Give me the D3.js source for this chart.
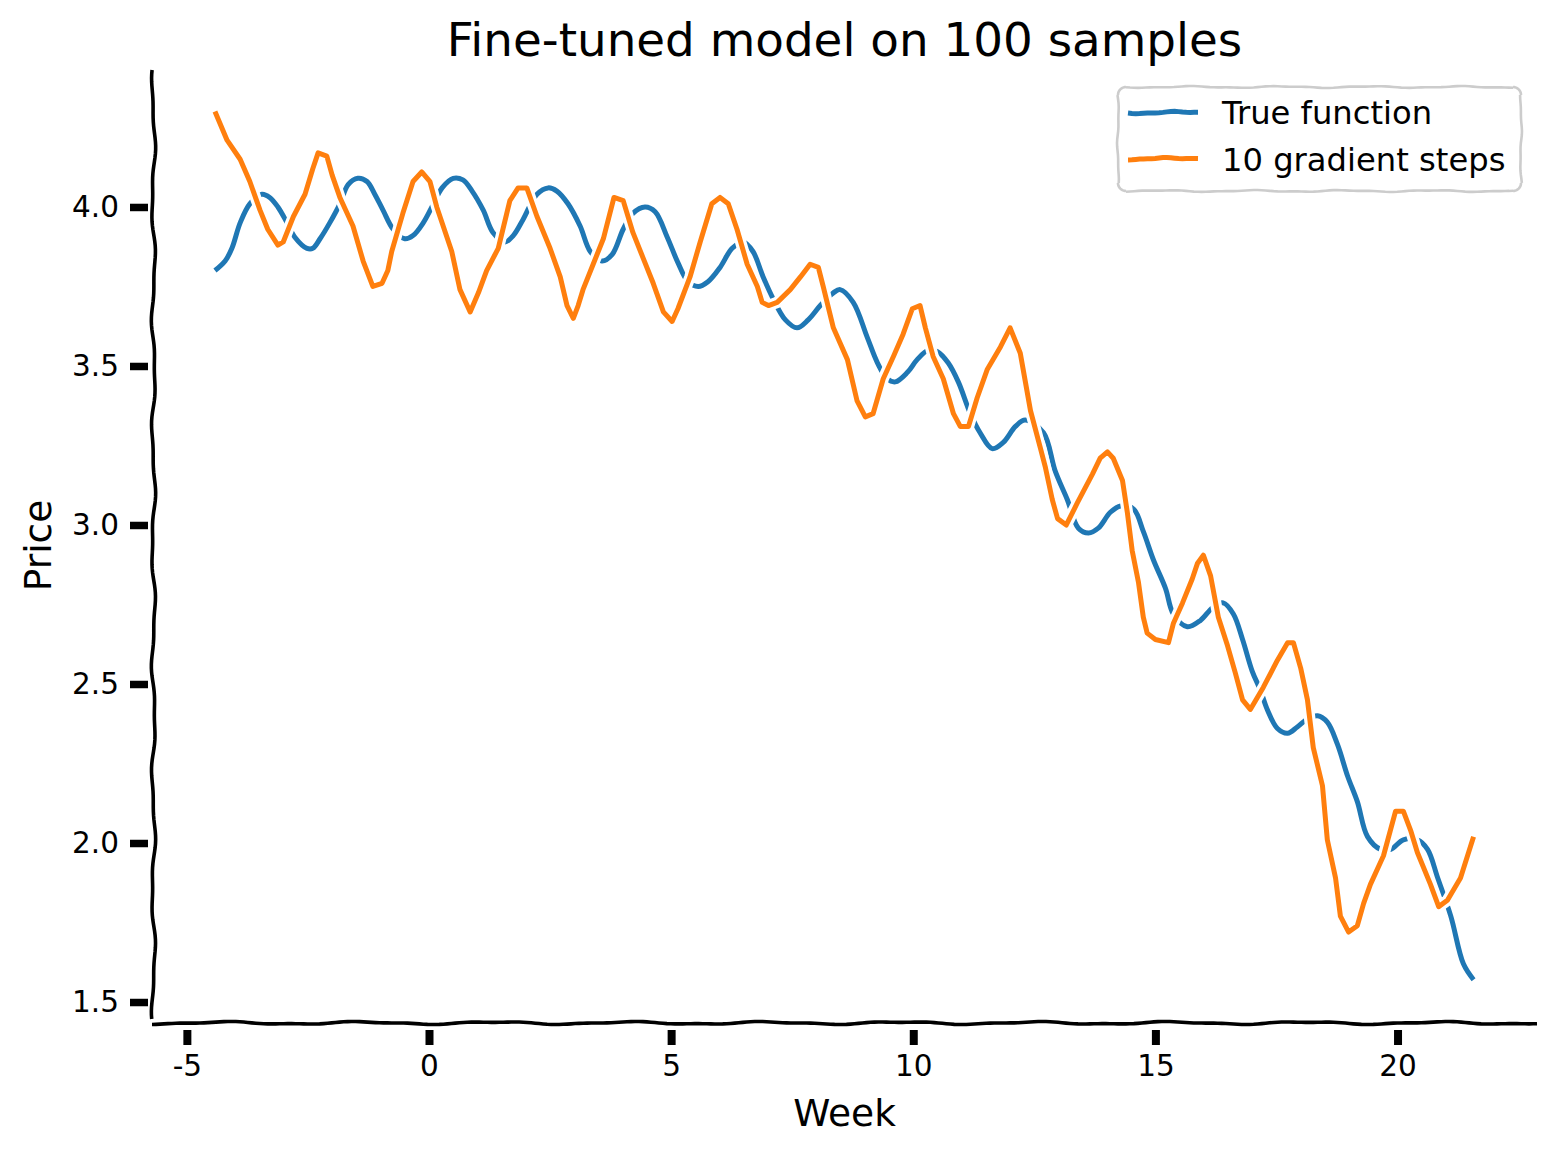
<!DOCTYPE html>
<html>
<head>
<meta charset="utf-8">
<script src="https://cdn.jsdelivr.net/npm/d3@7"></script>
<style>
  html, body { margin: 0; padding: 0; background: #fff; }
  svg { display: block; font-family: "DejaVu Sans", sans-serif; }
</style>
</head>
<body>
<svg id="chart" width="1556" height="1155"></svg>
<script>
// ---------------- data ----------------
const trueX = [-4.42,-4.21,-4.07,-3.90,-3.70,-3.45,-3.29,-3.12,-2.93,-2.77,-2.52,-2.40,-2.25,-2.05,-1.84,-1.67,-1.47,-1.28,-1.12,-0.95,-0.74,-0.50,-0.33,-0.12,0.06,0.27,0.50,0.70,0.89,1.12,1.32,1.57,1.74,1.94,2.23,2.46,2.64,2.87,3.12,3.33,3.57,3.78,4.01,4.21,4.46,4.67,4.92,5.14,5.35,5.56,5.76,6.01,6.26,6.49,6.69,6.90,7.11,7.36,7.60,7.83,8.08,8.35,8.49,8.76,9.05,9.26,9.46,9.63,9.88,10.08,10.31,10.50,10.72,10.93,11.18,11.38,11.63,11.86,12.11,12.31,12.69,12.93,13.18,13.41,13.62,13.82,14.07,14.28,14.55,14.75,14.96,15.21,15.37,15.66,15.93,16.18,16.40,16.61,16.80,17.00,17.17,17.31,17.52,17.73,17.93,18.14,18.35,18.55,18.76,18.97,19.17,19.38,19.65,19.86,20.12,20.41,20.62,20.83,21.10,21.36,21.57];
const trueY = [3.80,3.83,3.87,3.95,4.01,4.04,4.03,4.00,3.95,3.905,3.87,3.87,3.90,3.95,4.01,4.07,4.09,4.08,4.04,3.99,3.93,3.90,3.91,3.95,4.00,4.06,4.09,4.085,4.05,3.99,3.92,3.89,3.91,3.96,4.04,4.06,4.05,4.01,3.94,3.86,3.83,3.85,3.93,3.98,4.00,3.985,3.905,3.825,3.765,3.75,3.765,3.81,3.87,3.89,3.86,3.78,3.71,3.645,3.62,3.645,3.69,3.73,3.74,3.70,3.59,3.51,3.46,3.45,3.48,3.52,3.55,3.545,3.51,3.45,3.35,3.29,3.24,3.26,3.31,3.33,3.29,3.17,3.08,2.99,2.975,2.99,3.04,3.06,3.05,2.98,2.89,2.80,2.72,2.68,2.70,2.74,2.755,2.72,2.64,2.54,2.48,2.42,2.36,2.345,2.365,2.39,2.40,2.38,2.31,2.21,2.13,2.02,1.98,1.98,2.01,2.01,1.98,1.89,1.77,1.62,1.57];

const stepsX = [-4.42,-4.17,-3.90,-3.70,-3.49,-3.33,-3.12,-3.01,-2.80,-2.56,-2.40,-2.29,-2.11,-2.00,-1.84,-1.57,-1.36,-1.16,-0.97,-0.85,-0.77,-0.54,-0.33,-0.15,0.02,0.16,0.47,0.64,0.85,1.02,1.19,1.43,1.67,1.84,2.02,2.23,2.50,2.71,2.85,2.98,3.08,3.18,3.39,3.60,3.82,4.01,4.21,4.42,4.63,4.84,5.02,5.14,5.39,5.60,5.84,6.01,6.18,6.36,6.57,6.78,6.88,7.01,7.19,7.46,7.67,7.87,8.04,8.14,8.35,8.64,8.84,9.01,9.17,9.38,9.59,9.79,9.98,10.14,10.25,10.41,10.62,10.83,10.97,11.14,11.32,11.53,11.80,12.00,12.21,12.42,12.62,12.73,12.87,12.98,13.16,13.39,13.70,13.86,14.01,14.13,14.32,14.42,14.52,14.65,14.75,14.83,15.00,15.27,15.37,15.56,15.76,15.87,15.99,16.14,16.30,16.49,16.65,16.80,16.96,17.23,17.52,17.73,17.85,18.00,18.14,18.26,18.45,18.55,18.72,18.82,18.99,19.17,19.30,19.44,19.71,19.96,20.12,20.27,20.41,20.68,20.85,21.03,21.30,21.57];
const stepsY = [4.30,4.21,4.15,4.08,3.99,3.93,3.88,3.89,3.97,4.04,4.12,4.17,4.16,4.10,4.03,3.94,3.83,3.75,3.76,3.80,3.86,3.98,4.08,4.11,4.08,4.00,3.86,3.74,3.67,3.73,3.80,3.87,4.02,4.06,4.06,3.97,3.87,3.78,3.69,3.65,3.69,3.74,3.82,3.90,4.03,4.02,3.92,3.84,3.76,3.67,3.64,3.68,3.78,3.89,4.01,4.03,4.01,3.93,3.82,3.75,3.70,3.69,3.70,3.74,3.78,3.82,3.81,3.75,3.62,3.52,3.39,3.34,3.35,3.46,3.53,3.60,3.68,3.69,3.62,3.53,3.46,3.35,3.31,3.31,3.40,3.49,3.56,3.62,3.54,3.36,3.245,3.18,3.08,3.02,3.00,3.07,3.16,3.21,3.23,3.21,3.14,3.04,2.92,2.82,2.71,2.66,2.64,2.63,2.69,2.755,2.83,2.88,2.905,2.84,2.71,2.62,2.535,2.45,2.42,2.49,2.575,2.63,2.63,2.55,2.45,2.30,2.18,2.01,1.89,1.77,1.72,1.74,1.81,1.87,1.96,2.10,2.10,2.04,1.97,1.87,1.80,1.82,1.89,2.02];

const seriesNames = ["True function", "10 gradient steps"];
const seriesColors = ["#1f77b4", "#ff7f0e"];

const xTicks = [-5, 0, 5, 10, 15, 20];
const xTickLabels = ["-5", "0", "5", "10", "15", "20"];
const yTicks = [1.5, 2.0, 2.5, 3.0, 3.5, 4.0];
const yTickLabels = ["1.5", "2.0", "2.5", "3.0", "3.5", "4.0"];

const titleText = "Fine-tuned model on 100 samples";
const xLabelText = "Week";
const yLabelText = "Price";

// ---------------- layout ----------------
const svg = d3.select("#chart");
const plot = { left: 152, right: 1537, top: 68, bottom: 1023 };

const x = d3.scaleLinear().domain([-5.72, 22.88]).range([plot.left, plot.right]);
const y = d3.scaleLinear().domain([1.434, 4.437]).range([plot.bottom, plot.top]);

// wobbly (xkcd-like) straight line helper
function wobble(x0, y0, x1, y1, amp, wl, phase) {
  const len = Math.hypot(x1 - x0, y1 - y0);
  const n = Math.max(2, Math.ceil(len / 4));
  const ux = (x1 - x0) / len, uy = (y1 - y0) / len;
  const px = -uy, py = ux;
  const pts = [];
  for (let i = 0; i <= n; i++) {
    const t = i / n, s = t * len;
    const off = amp * (0.7 * Math.sin(2 * Math.PI * s / wl + phase) + 0.3 * Math.sin(2 * Math.PI * s / (wl * 0.43) + phase * 1.7));
    pts.push([x0 + ux * s + px * off, y0 + uy * s + py * off]);
  }
  return d3.line()(pts);
}

// ---------------- series ----------------
const blueData = trueX.map((v, i) => [v, trueY[i]]);
const orangeData = stepsX.map((v, i) => [v, stepsY[i]]);

const blueLine = d3.line().x(d => x(d[0])).y(d => y(d[1])).curve(d3.curveCatmullRom.alpha(0.5));
const orangeLine = d3.line().x(d => x(d[0])).y(d => y(d[1])).curve(d3.curveLinear);

const series = [
  { data: blueData, gen: blueLine, color: seriesColors[0] },
  { data: orangeData, gen: orangeLine, color: seriesColors[1] }
];
series.forEach(s => {
  svg.append("path").attr("d", s.gen(s.data)).attr("fill", "none")
    .attr("stroke", "#fff").attr("stroke-width", 11.5)
    .attr("stroke-linejoin", "round").attr("stroke-linecap", "round");
  svg.append("path").attr("d", s.gen(s.data)).attr("fill", "none")
    .attr("stroke", s.color).attr("stroke-width", 5)
    .attr("stroke-linejoin", "round").attr("stroke-linecap", "butt");
});

// ---------------- spines ----------------
svg.append("path")
  .attr("d", wobble(plot.left + 1.5, plot.top + 2, plot.left + 1.5, plot.bottom - 4, 2.2, 115, 0.6))
  .attr("fill", "none").attr("stroke", "#000").attr("stroke-width", 3.6);
svg.append("path")
  .attr("d", wobble(plot.left, plot.bottom, plot.right, plot.bottom, 1.6, 135, 1.3))
  .attr("fill", "none").attr("stroke", "#000").attr("stroke-width", 3.6);

// ---------------- axes ----------------
const xAxis = d3.axisBottom(x).tickValues(xTicks)
  .tickFormat((d, i) => xTickLabels[i]).tickSize(15).tickPadding(10);
const gx = svg.append("g").attr("transform", `translate(0,${plot.bottom + 7})`).call(xAxis);
gx.select(".domain").remove();
gx.selectAll(".tick line").attr("stroke", "#000").attr("stroke-width", 8);
gx.selectAll(".tick text").attr("fill", "#000")
  .style("font-family", "'DejaVu Sans', sans-serif").style("font-size", "29.5px");

const yAxis = d3.axisLeft(y).tickValues(yTicks)
  .tickFormat((d, i) => yTickLabels[i]).tickSize(18).tickPadding(11);
const gy = svg.append("g").attr("transform", `translate(${plot.left - 4},0)`).call(yAxis);
gy.select(".domain").remove();
gy.selectAll(".tick line").attr("stroke", "#000").attr("stroke-width", 7.5);
gy.selectAll(".tick text").attr("fill", "#000")
  .style("font-family", "'DejaVu Sans', sans-serif").style("font-size", "29.5px");

// ---------------- labels ----------------
svg.append("text").text(titleText)
  .attr("x", (plot.left + plot.right) / 2).attr("y", 56)
  .attr("text-anchor", "middle").style("font-size", "46.8px").attr("fill", "#000");

svg.append("text").text(xLabelText)
  .attr("x", (plot.left + plot.right) / 2).attr("y", 1126)
  .attr("text-anchor", "middle").style("font-size", "37.5px").attr("fill", "#000");

svg.append("text").text(yLabelText)
  .attr("transform", `translate(51,${(plot.top + plot.bottom) / 2}) rotate(-90)`)
  .attr("text-anchor", "middle").style("font-size", "37.5px").attr("fill", "#000");

// ---------------- legend ----------------
const lg = { x0: 1118, y0: 87, x1: 1521, y1: 191, r: 8 };
const legendG = svg.append("g");
const boxPath = [
  wobble(lg.x0 + lg.r, lg.y0, lg.x1 - lg.r, lg.y0, 1.0, 90, 0.2),
  wobble(lg.x1, lg.y0 + lg.r, lg.x1, lg.y1 - lg.r, 1.0, 60, 1.1),
  wobble(lg.x1 - lg.r, lg.y1, lg.x0 + lg.r, lg.y1, 1.0, 90, 2.3),
  wobble(lg.x0, lg.y1 - lg.r, lg.x0, lg.y0 + lg.r, 1.0, 60, 0.7)
];
legendG.append("rect").attr("x", lg.x0).attr("y", lg.y0)
  .attr("width", lg.x1 - lg.x0).attr("height", lg.y1 - lg.y0)
  .attr("rx", lg.r).attr("fill", "#fff").attr("fill-opacity", 0.85).attr("stroke", "none");
boxPath.forEach(d => legendG.append("path").attr("d", d).attr("fill", "none")
  .attr("stroke", "#cccccc").attr("stroke-width", 2.6));
[[lg.x0 + lg.r, lg.y0 + lg.r, Math.PI, 1.5 * Math.PI], [lg.x1 - lg.r, lg.y0 + lg.r, 1.5 * Math.PI, 2 * Math.PI],
 [lg.x1 - lg.r, lg.y1 - lg.r, 0, 0.5 * Math.PI], [lg.x0 + lg.r, lg.y1 - lg.r, 0.5 * Math.PI, Math.PI]].forEach(c => {
  const pts = d3.range(0, 1.0001, 0.1).map(t => {
    const a = c[2] + (c[3] - c[2]) * t;
    return [c[0] + lg.r * Math.cos(a), c[1] + lg.r * Math.sin(a)];
  });
  legendG.append("path").attr("d", d3.line()(pts)).attr("fill", "none")
    .attr("stroke", "#cccccc").attr("stroke-width", 2.6);
});

const legendRows = [{ yLine: 113, yText: 124 }, { yLine: 159, yText: 171 }];
seriesNames.forEach((name, i) => {
  legendG.append("path")
    .attr("d", wobble(1128, legendRows[i].yLine, 1198, legendRows[i].yLine - 1, 1.0, 60, i))
    .attr("fill", "none").attr("stroke", seriesColors[i]).attr("stroke-width", 5);
  legendG.append("text").text(name)
    .attr("x", 1222).attr("y", legendRows[i].yText)
    .style("font-size", "32.2px").attr("fill", "#000");
});
</script>
</body>
</html>
